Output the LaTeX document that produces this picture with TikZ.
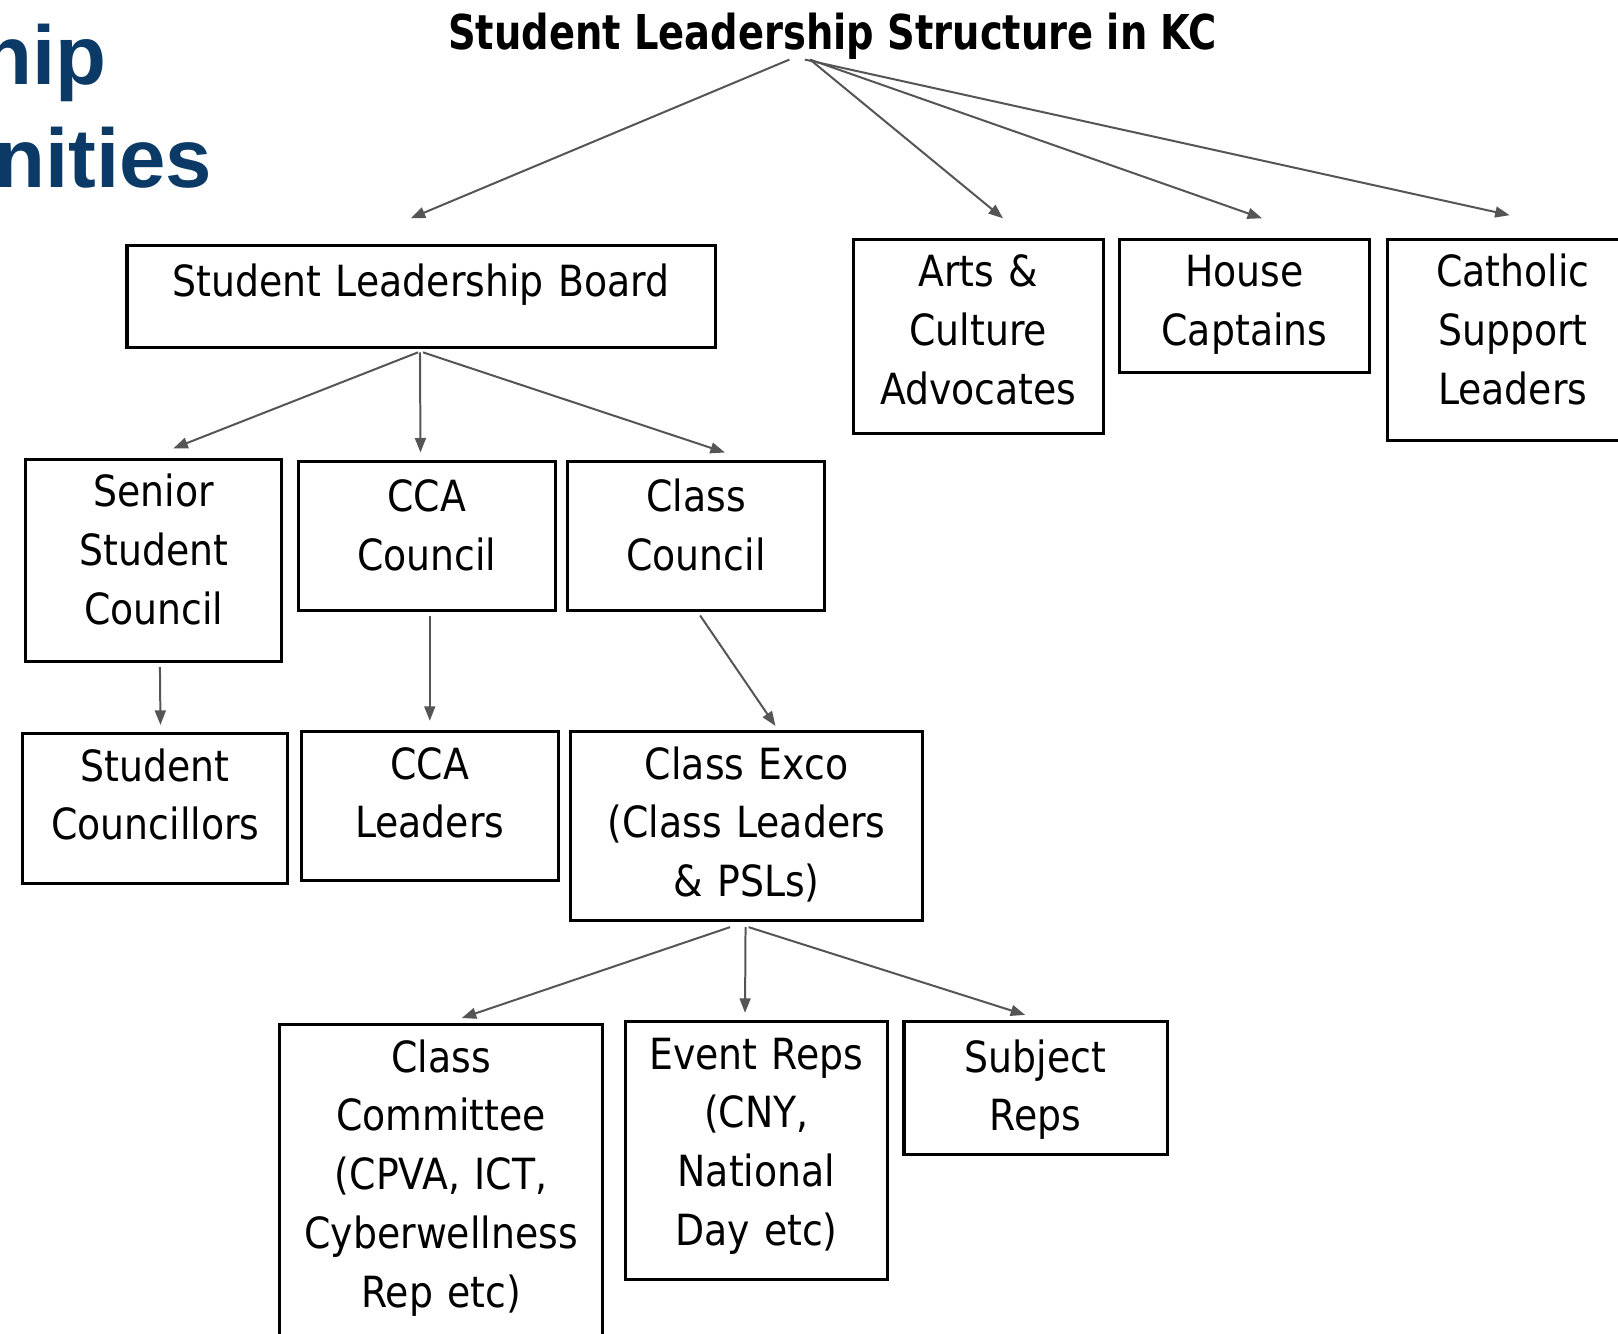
\documentclass[tikz,border=0pt]{standalone}
\usepackage{fontspec}
\setmainfont{DejaVu Sans}[FakeStretch=0.88]
\newfontfamily\titlefont{DejaVu Sans}[FakeStretch=0.8]
\newfontfamily\headfont{Liberation Sans}
\usetikzlibrary{arrows.meta}
\definecolor{arrowgray}{HTML}{555555}
\definecolor{headblue}{HTML}{0B3A66}

\begin{document}
\begin{tikzpicture}[x=0.02cm, y=-0.02cm,
    box/.style={draw, line width=1.7pt, align=center, inner sep=0pt, text height=0.92cm, font=\fontsize{23.7}{32.4}\selectfont},
    link/.style={draw=arrowgray, line width=1.1pt, -{Triangle[length=8pt, width=6pt]}}]
    \path[use as bounding box, fill=white] (0,0) rectangle (1568,1292);
    \clip (0,0) rectangle (1568,1292);
    \node[anchor=base west, inner sep=0pt, text=headblue, font=\headfont\bfseries\fontsize{46}{50}\selectfont] (hip) at (-18,82) {hip};
    \node[anchor=base west, inner sep=0pt, text=headblue, font=\headfont\bfseries\fontsize{46}{50}\selectfont] (nities) at (-6,182) {nities};
    \node[font=\titlefont\bfseries\fontsize{26.5}{30}\selectfont] (title) at (807,35) {Student Leadership Structure in KC};
    \node[box, text width=11.4cm, text height=0.98cm, text depth=1.0cm] (slb) at (408,287.5) {Student Leadership Board};
    \node[box, text width=4.84cm, text depth=2.84cm] (arts) at (948,326) {Arts \&\\Culture\\Advocates};
    \node[box, text width=4.84cm, text depth=1.66cm] (house) at (1206,296.5) {House\\Captains};
    \node[box, text width=4.84cm, text depth=2.98cm] (cath) at (1466,329.5) {Catholic\\Support\\Leaders};
    \node[box, text width=4.96cm, text depth=3.0cm] (senior) at (149,543) {Senior\\Student\\Council};
    \node[box, text width=4.98cm, text height=0.98cm, text depth=1.92cm] (ccac) at (413.5,519.5) {CCA\\Council};
    \node[box, text width=4.98cm, text height=0.98cm, text depth=1.92cm] (classc) at (674.5,519.5) {Class\\Council};
    \node[box, text width=5.14cm, text depth=1.98cm] (stuc) at (150.5,783.5) {Student\\Councillors};
    \node[box, text width=4.98cm, text depth=1.96cm] (ccal) at (416.5,781) {CCA\\Leaders};
    \node[box, text width=6.82cm, text depth=2.74cm] (exco) at (723.5,800.5) {Class Exco\\(Class Leaders\\\& PSLs)};
    \node[box, text width=6.26cm, text depth=5.2cm] (ccom) at (427.5,1146) {Class\\Committee\\(CPVA, ICT,\\Cyberwellness\\Rep etc)};
    \node[box, text width=5.08cm, text depth=4.08cm] (event) at (733,1115) {Event Reps\\(CNY,\\National\\Day etc)};
    \node[box, text width=5.1cm, text height=0.98cm, text depth=1.6cm] (subj) at (1003.5,1054.5) {Subject\\Reps};
    \draw[link] ([shift={(-42,-6)}]title.south) -- ([shift={(-10,-25)}]slb.north);
    \draw[link] ([shift={(-22,-6)}]title.south) -- ([shift={(24,-19)}]arts.north);
    \draw[link] ([shift={(-22,-6)}]title.south) -- ([shift={(17,-19)}]house.north);
    \draw[link] ([shift={(-27,-6)}]title.south) -- ([shift={(-3,-22)}]cath.north);
    \draw[link] ([shift={(-3,3)}]slb.south) -- ([shift={(19,-9)}]senior.north);
    \draw[link] ([shift={(-1,3)}]slb.south) -- ([shift={(-6,-7)}]ccac.north);
    \draw[link] ([shift={(2,3)}]slb.south) -- ([shift={(28,-7)}]classc.north);
    \draw[link] ([shift={(6,4)}]senior.south) -- ([shift={(5,-7)}]stuc.north);
    \draw[link] ([shift={(3,3)}]ccac.south) -- ([shift={(0,-9)}]ccal.north);
    \draw[link] ([shift={(4,3)}]classc.south) -- ([shift={(28,-4)}]exco.north);
    \draw[link] ([shift={(-16,5)}]exco.south) -- ([shift={(20,-5)}]ccom.north);
    \draw[link] ([shift={(-1,5)}]exco.south) -- ([shift={(-11,-7)}]event.north);
    \draw[link] ([shift={(2,5)}]exco.south) -- ([shift={(-10,-5)}]subj.north);
\end{tikzpicture}
\end{document}
